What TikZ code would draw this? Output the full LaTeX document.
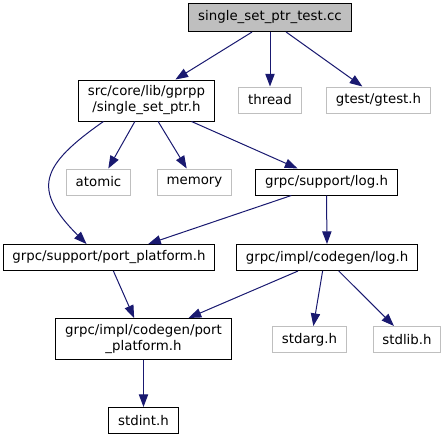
\documentclass[tikz,border=0pt]{standalone}
\usepackage{fontspec}
\setmainfont{DejaVu Sans}
\usetikzlibrary{arrows.meta}

\definecolor{edgeblue}{RGB}{25,25,112}
\definecolor{sysgray}{RGB}{191,191,191}

\begin{document}
\begin{tikzpicture}[x=0.75pt,y=-0.75pt,
	file/.style={draw=black,line width=0.75pt,inner xsep=7pt,inner ysep=4.4pt,minimum height=19.5pt,align=center,font=\fontsize{10}{12}\selectfont},
	sysfile/.style={file,draw=sysgray},
	rootfile/.style={file,fill=sysgray,minimum height=21pt},
	edge/.style={draw=edgeblue,line width=0.75pt,-{Triangle[length=9.5pt,width=7pt]}}]

\useasboundingbox (0,0) rectangle (447,440);

\node [rootfile] at (270,17.5)  (test)   {single\_set\_ptr\_test.cc};

\node [file]     at (146.5,100.5) (gprpp) {src/core/lib/gprpp\\/single\_set\_ptr.h};
\node [sysfile]  at (270,100)   (thread) {thread};
\node [sysfile]  at (378.5,100) (gtest)  {gtest/gtest.h};

\node [sysfile]  at (98.5,182)  (atomic) {atomic};
\node [sysfile]  at (194.5,182) (memory) {memory};
\node [file]     at (326.5,182) (log)    {grpc/support/log.h};

\node [file]     at (109,257.5) (pp)     {grpc/support/port\_platform.h};
\node [file]     at (327,257.5) (cglog)  {grpc/impl/codegen/log.h};

\node [file]     at (143.5,339) (cgpp)   {grpc/impl/codegen/port\\\_platform.h};
\node [sysfile]  at (309.5,339.5) (stdarg) {stdarg.h};
\node [sysfile]  at (407,339.5) (stdlib) {stdlib.h};

\node [file]     at (143.5,420.5) (stdint) {stdint.h};

%%%%%%%%%%%%%%%%%%%%%%%%%%%%%%%%%%%%%%%%%%%%%%%%%%%%%%%%%%%%%%%%

\foreach \a/\b in {test.219/gprpp.36, test.south/thread.north, test.318/gtest.140,
	gprpp.241/atomic.54, gprpp.299/memory.120, gprpp.335/log.155,
	log.201/pp.19, log.south/cglog.north,
	pp.288/cgpp.114, cglog.205/cgpp.25, cglog.252/stdarg.74, cglog.311/stdlib.134,
	cgpp.south/stdint.north} {
	\draw [edge] (\a) -- (\b);
}

\draw [edge] (gprpp.206) to [out=215,in=135,looseness=1.6] (pp.149);

\end{tikzpicture}
\end{document}
